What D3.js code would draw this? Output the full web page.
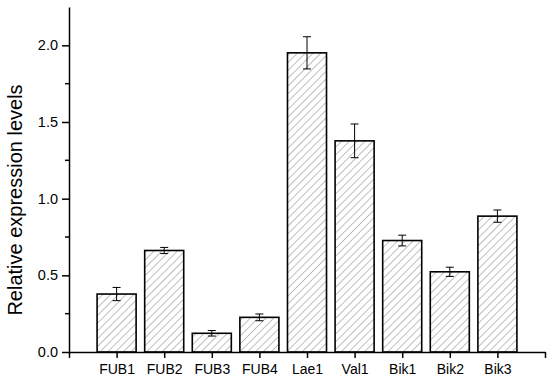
<!DOCTYPE html>
<html><head><meta charset="utf-8">
<script src="https://cdn.jsdelivr.net/npm/d3@7"></script>
<style>body{margin:0;background:#fff}svg{display:block}</style>
</head><body>
<script>
const categories = ["FUB1","FUB2","FUB3","FUB4","Lae1","Val1","Bik1","Bik2","Bik3"];
const values = [0.378, 0.662, 0.122, 0.226, 1.951, 1.377, 0.727, 0.523, 0.886];
const errors = [0.043, 0.020, 0.018, 0.022, 0.105, 0.110, 0.035, 0.030, 0.040];
const yTicks = [0.0, 0.5, 1.0, 1.5, 2.0];
const yMinorTicks = [0.25, 0.75, 1.25, 1.75];

const W = 550, H = 385;
const m = {left: 69, right: 5, top: 7, bottom: 33};
const svg = d3.select("body").append("svg").attr("width", W).attr("height", H);
const font = "'Liberation Sans', Arial, sans-serif";

const defs = svg.append("defs");
const pat = defs.append("pattern").attr("id","hatch").attr("patternUnits","userSpaceOnUse")
  .attr("width",5.5).attr("height",5.5).attr("patternTransform","rotate(45)");
pat.append("line").attr("x1",0).attr("y1",0).attr("x2",0).attr("y2",5.5)
  .attr("stroke","#808080").attr("stroke-width",1);

const x = d3.scaleLinear().domain([0, 10]).range([m.left, W - m.right]);
const y = d3.scaleLinear().domain([0, 2.25]).range([H - m.bottom, m.top]);
const bw = (x(1) - x(0)) * 0.82;

const g = svg.append("g");
g.selectAll("rect.bar").data(categories).join("rect").attr("class","bar")
  .attr("x", (d,i) => x(i+1) - bw/2).attr("width", bw)
  .attr("y", (d,i) => y(values[i])).attr("height", (d,i) => y(0) - y(values[i]))
  .attr("fill","url(#hatch)").attr("stroke","#000").attr("stroke-width",1.6);

const eb = g.selectAll("g.err").data(categories).join("g").attr("class","err")
  .attr("stroke","#000").attr("stroke-width",1);
eb.append("line").attr("x1",(d,i)=>x(i+1)).attr("x2",(d,i)=>x(i+1))
  .attr("y1",(d,i)=>y(values[i]-errors[i])).attr("y2",(d,i)=>y(values[i]+errors[i]));
eb.append("line").attr("x1",(d,i)=>x(i+1)-4).attr("x2",(d,i)=>x(i+1)+4)
  .attr("y1",(d,i)=>y(values[i]+errors[i])).attr("y2",(d,i)=>y(values[i]+errors[i]));
eb.append("line").attr("x1",(d,i)=>x(i+1)-4).attr("x2",(d,i)=>x(i+1)+4)
  .attr("y1",(d,i)=>y(values[i]-errors[i])).attr("y2",(d,i)=>y(values[i]-errors[i]));

// y axis
const yAx = svg.append("g").attr("transform",`translate(${m.left},0)`)
  .call(d3.axisLeft(y).tickValues(yTicks).tickFormat(d3.format(".1f")).tickSize(7).tickSizeOuter(0));
yAx.select(".domain").attr("stroke-width",1.5);
yAx.selectAll(".tick line").attr("stroke-width",1.5);
yAx.selectAll(".tick text").attr("font-family",font).attr("font-size",14.5).attr("fill","#000").attr("dx",-1);
yAx.selectAll(".minor").data(yMinorTicks).join("line").attr("class","minor")
  .attr("x1",-4).attr("x2",0).attr("y1",d=>y(d)).attr("y2",d=>y(d))
  .attr("stroke","#000").attr("stroke-width",1.5);

// x axis
const xAx = svg.append("g").attr("transform",`translate(0,${y(0)})`)
  .call(d3.axisBottom(x).tickValues(d3.range(0,11)).tickFormat(d => (d>=1 && d<=9) ? categories[d-1] : "").tickSize(6).tickSizeOuter(0));
xAx.select(".domain").attr("stroke-width",1.5);
xAx.selectAll(".tick line").attr("stroke-width",1.5);
xAx.selectAll(".tick text").attr("font-family",font).attr("font-size",14).attr("fill","#000").attr("dy","0.95em");

svg.append("text").attr("transform",`translate(22,${200}) rotate(-90)`)
  .attr("text-anchor","middle").attr("font-family",font).attr("font-size",20).attr("fill","#000")
  .text("Relative expression levels");
</script>
</body></html>
